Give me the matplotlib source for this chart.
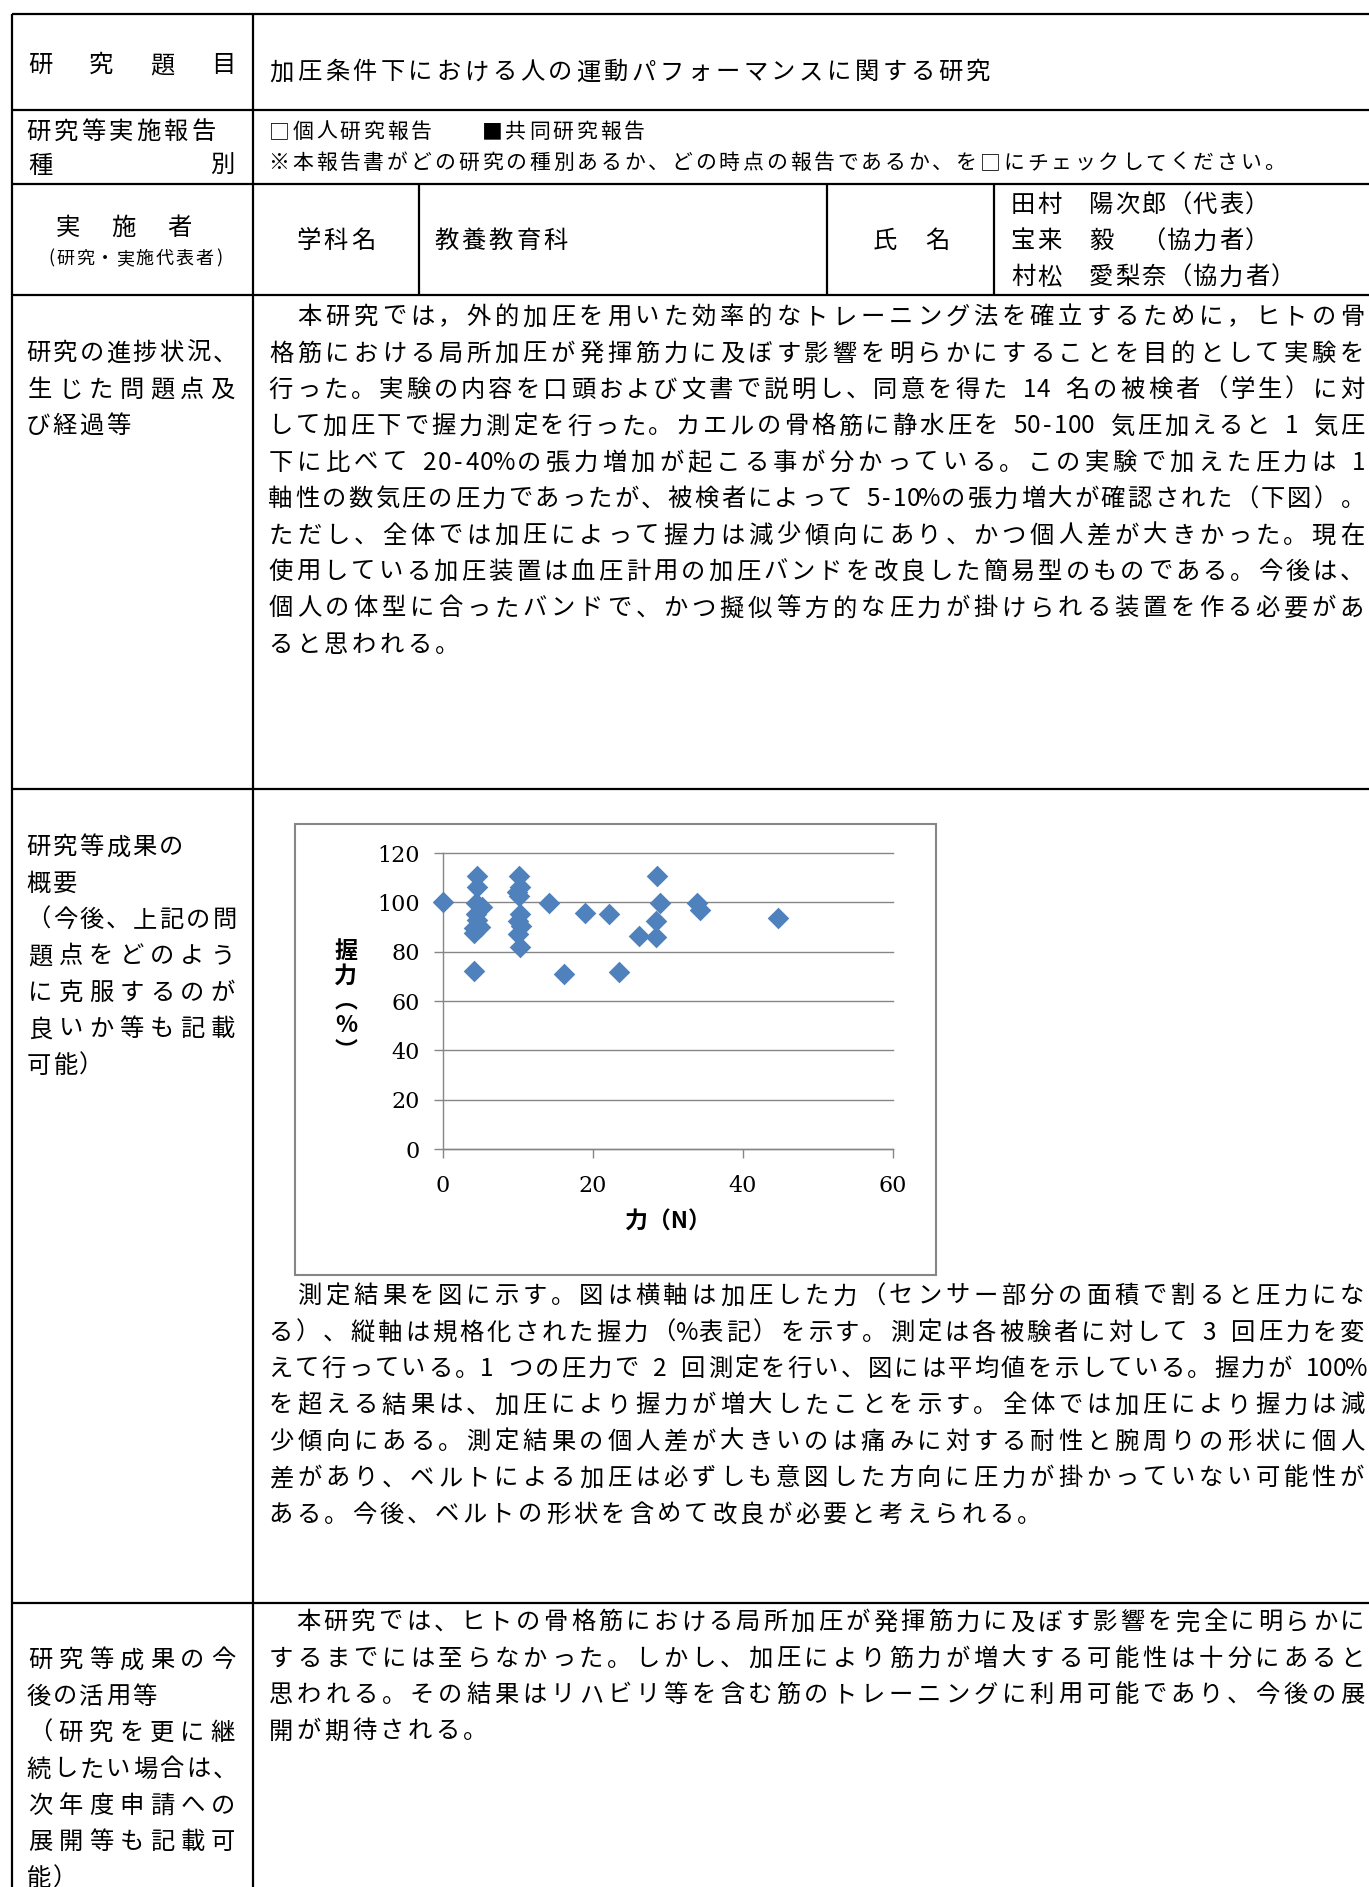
from __future__ import annotations

import matplotlib

matplotlib.use("Agg")

import matplotlib.pyplot as plt
from matplotlib.patches import Rectangle

plt.rcParams["font.family"] = ["Noto Sans CJK JP", "DejaVu Sans"]

FIG_W, FIG_H, DPI = 1369, 1887, 100

# scatter data: applied force (N) vs normalised grip strength (%)
force_n = [0.0,
           4.6, 4.6, 4.4, 5.2, 4.4, 4.6, 4.2, 5.0, 4.2, 4.1,
           10.1, 10.3, 9.9, 10.2, 10.3, 10.0, 10.4, 10.0, 10.3,
           14.1, 16.2, 19.0, 22.2, 23.5, 26.1, 28.5, 28.9, 28.4, 28.4,
           33.9, 34.3, 44.7]
grip_pct = [100.0,
            110.5, 106.2, 99.8, 98.3, 95.2, 92.8, 89.5, 90.2, 87.5, 72.0,
            110.6, 106.2, 104.0, 102.6, 95.2, 92.6, 90.5, 87.0, 82.0,
            99.6, 70.9, 95.5, 95.3, 71.6, 86.5, 110.7, 99.9, 92.4, 85.8,
            99.6, 96.9, 93.6]
x_ticks = [0, 20, 40, 60]
y_ticks = [0, 20, 40, 60, 80, 100, 120]
x_label = "力（N）"
y_label = "握\n力\n︵\n%\n︶"

TITLE = "加圧条件下における人の運動パフォーマンスに関する研究"
REPORT_KIND = "□個人研究報告　　■共同研究報告"
REPORT_NOTE = "※本報告書がどの研究の種別あるか、どの時点の報告であるか、を□にチェックしてください。"
DEPARTMENT = "教養教育科"
MEMBERS = ["田村　陽次郎（代表）", "宝来　毅　（協力者）", "村松　愛梨奈（協力者）"]

PROGRESS = [
    "　本研究では，外的加圧を用いた効率的なトレーニング法を確立するために，ヒトの骨",
    "格筋における局所加圧が発揮筋力に及ぼす影響を明らかにすることを目的として実験を",
    "行った。実験の内容を口頭および文書で説明し、同意を得た 14 名の被検者（学生）に対",
    "して加圧下で握力測定を行った。カエルの骨格筋に静水圧を 50-100 気圧加えると 1 気圧",
    "下に比べて 20-40%の張力増加が起こる事が分かっている。この実験で加えた圧力は 1",
    "軸性の数気圧の圧力であったが、被検者によって 5-10%の張力増大が確認された（下図）。",
    "ただし、全体では加圧によって握力は減少傾向にあり、かつ個人差が大きかった。現在",
    "使用している加圧装置は血圧計用の加圧バンドを改良した簡易型のものである。今後は、",
    "個人の体型に合ったバンドで、かつ擬似等方的な圧力が掛けられる装置を作る必要があ",
    "ると思われる。",
]
RESULTS = [
    "　測定結果を図に示す。図は横軸は加圧した力（センサー部分の面積で割ると圧力にな",
    "る）、縦軸は規格化された握力（%表記）を示す。測定は各被験者に対して 3 回圧力を変",
    "えて行っている。1 つの圧力で 2 回測定を行い、図には平均値を示している。握力が 100%",
    "を超える結果は、加圧により握力が増大したことを示す。全体では加圧により握力は減",
    "少傾向にある。測定結果の個人差が大きいのは痛みに対する耐性と腕周りの形状に個人",
    "差があり、ベルトによる加圧は必ずしも意図した方向に圧力が掛かっていない可能性が",
    "ある。今後、ベルトの形状を含めて改良が必要と考えられる。",
]
FUTURE = [
    "　本研究では、ヒトの骨格筋における局所加圧が発揮筋力に及ぼす影響を完全に明らかに",
    "するまでには至らなかった。しかし、加圧により筋力が増大する可能性は十分にあると",
    "思われる。その結果はリハビリ等を含む筋のトレーニングに利用可能であり、今後の展",
    "開が期待される。",
]

# left column labels: (text, justified?)
LABEL_PROGRESS = [("研究の進捗状況、", False), ("生じた問題点及", True), ("び経過等", False)]
LABEL_RESULTS = [("研究等成果の", False), ("概要", False), ("（今後、上記の問", True),
                 ("題点をどのよう", True), ("に克服するのが", True),
                 ("良いか等も記載", True), ("可能）", False)]
LABEL_FUTURE = [("研究等成果の今", True), ("後の活用等", False), ("（研究を更に継", True),
                ("続したい場合は、", True), ("次年度申請への", True),
                ("展開等も記載可", True), ("能）", False)]

BODY = 17.5
SMALL = 15.0
LINE_H = 36.4
TEXT_X0, TEXT_X1 = 267, 1366
LABEL_X0, LABEL_X1 = 25, 238
GRID = "#868686"
MARKER = "#4F81BD"


def char_units(ch):
    if ch == "%":
        return 0.75
    return 0.5 if ord(ch) < 0x2000 else 1.0


def put_line(ax, text, x0, y, size, pitch=None, x1=None, **kw):
    units = [char_units(ch) for ch in text]
    step = (x1 - x0) / sum(units) if x1 is not None else pitch
    base = y + 0.38 * size * DPI / 72
    pos = x0
    for ch, u in zip(text, units):
        if ch.strip():
            ax.text(pos + u * step / 2, base, ch, fontsize=size,
                    ha="center", va="baseline", **kw)
        pos += u * step


def put_paragraph(ax, lines, y0):
    for i, line in enumerate(lines):
        y = y0 + i * LINE_H
        if i == len(lines) - 1:
            put_line(ax, line, TEXT_X0, y, BODY, pitch=27.7)
        else:
            put_line(ax, line, TEXT_X0, y, BODY, x1=TEXT_X1)


def put_label(ax, lines, y0):
    for i, (line, justify) in enumerate(lines):
        y = y0 + i * LINE_H
        if justify:
            put_line(ax, line, LABEL_X0, y, BODY, x1=LABEL_X1)
        else:
            put_line(ax, line, LABEL_X0, y, BODY, pitch=26.6)


fig = plt.figure(figsize=(FIG_W / DPI, FIG_H / DPI), dpi=DPI)
bg = fig.add_axes([0, 0, 1, 1])
bg.set_xlim(0, FIG_W)
bg.set_ylim(FIG_H, 0)
bg.axis("off")

# table grid
for y in [14, 109.5, 183.5, 295, 788.5, 1602.5]:
    bg.plot([11.5, FIG_W], [y, y], color="black", lw=1.6, solid_capstyle="butt")
for x in [11.5, 252.5]:
    bg.plot([x, x], [14, FIG_H], color="black", lw=1.6, solid_capstyle="butt")
for x in [419, 827, 994]:
    bg.plot([x, x], [183.5, 295], color="black", lw=1.6, solid_capstyle="butt")

# row 1
put_line(bg, "研　究　題　目", LABEL_X0, 63, BODY, x1=LABEL_X1)
put_line(bg, TITLE, TEXT_X0, 70, BODY, pitch=27.9)

# row 2
put_line(bg, "研究等実施報告", LABEL_X0, 130, BODY, pitch=27.5)
put_line(bg, "種　　　　　別", LABEL_X0, 164, BODY, x1=LABEL_X1)
put_line(bg, REPORT_KIND, TEXT_X0, 130, SMALL, pitch=23.7)
put_line(bg, REPORT_NOTE, TEXT_X0, 161, SMALL, pitch=23.7)

# row 3
put_line(bg, "実　施　者", 54, 226, BODY, x1=193)
put_line(bg, "(研究・実施代表者)", 46, 257, 13, x1=224)
put_line(bg, "学科名", 295, 239, BODY, pitch=27.2)
put_line(bg, DEPARTMENT, 433, 239, BODY, pitch=27.2)
put_line(bg, "氏　名", 871, 239, BODY, x1=951)
for i, name in enumerate(MEMBERS):
    put_line(bg, name, 1010, 203 + i * 36.1, BODY, pitch=26.0)

# rows 4-6
put_label(bg, LABEL_PROGRESS, 351)
put_paragraph(bg, PROGRESS, 315)
put_label(bg, LABEL_RESULTS, 845)
put_paragraph(bg, RESULTS, 1294)
put_label(bg, LABEL_FUTURE, 1658)
put_paragraph(bg, FUTURE, 1620)

# chart frame
bg.add_patch(Rectangle((294.5, 824), 641.5, 451, facecolor="white",
                       edgecolor=GRID, lw=1.5))

ax = fig.add_axes([443 / FIG_W, 1 - 1149 / FIG_H, 449.6 / FIG_W, 296 / FIG_H])
ax.set_facecolor("none")
ax.scatter(force_n, grip_pct, marker="D", s=11 ** 2, color=MARKER,
           linewidths=0, zorder=3, clip_on=False)
ax.set_xlim(x_ticks[0], x_ticks[-1])
ax.set_ylim(y_ticks[0], y_ticks[-1])
ax.set_xticks(x_ticks)
ax.set_yticks(y_ticks)
ax.grid(axis="y", color=GRID, lw=1.0)
for gl in ax.get_ygridlines():
    gl.set_clip_on(False)
for side in ["top", "right"]:
    ax.spines[side].set_visible(False)
for side in ["left", "bottom"]:
    ax.spines[side].set_color(GRID)
    ax.spines[side].set_linewidth(1.0)
ax.tick_params(direction="out", length=6.5, width=1.0, color=GRID,
               labelsize=16, labelfontfamily="DejaVu Serif")
ax.tick_params(axis="y", pad=10)
ax.tick_params(axis="x", pad=12)
ax.set_xlabel(x_label, fontsize=16.5, fontweight="bold", labelpad=10)
ax.set_ylabel(y_label, fontsize=16.5, fontweight="bold", rotation=0,
              ha="center", va="center", linespacing=1.1)
ax.yaxis.set_label_coords(-0.216, 0.5)

fig.savefig("out.png", dpi=DPI)
plt.close(fig)
